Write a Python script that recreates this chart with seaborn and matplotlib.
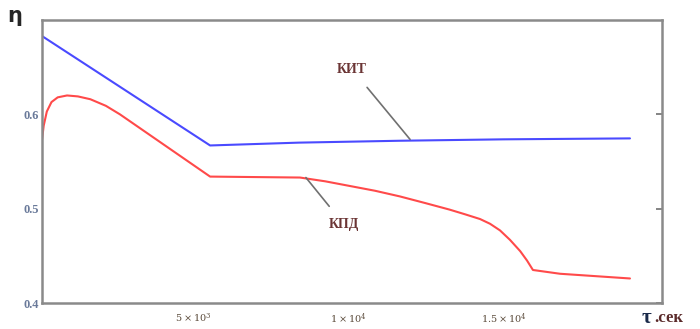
import numpy as np
import pandas as pd
import matplotlib.pyplot as plt
import seaborn as sns

# Values
kit_time = [145, 5550, 8400, 11650, 15000, 19050]
kit_eta = [0.683, 0.567, 0.570, 0.572, 0.5735, 0.5745]

kpd_time = [145, 200, 300, 450, 650, 950, 1300, 1700, 2200, 2650, 5550,
            8440, 9250, 10050, 10850, 11650, 12460, 13250, 13750, 14230, 14550,
            14870, 15190, 15520, 15740, 15930, 16800, 19050]
kpd_eta = [0.573, 0.588, 0.603, 0.613, 0.618, 0.620, 0.619, 0.616, 0.609, 0.600, 0.534,
           0.533, 0.529, 0.524, 0.519, 0.513, 0.506, 0.499, 0.494, 0.489, 0.484,
           0.477, 0.467, 0.455, 0.445, 0.435, 0.431, 0.426]

x_ticks = [5000, 10000, 15000]
x_tick_labels = [r"$5\times10^{3}$", r"$1\times10^{4}$", r"$1.5\times10^{4}$"]
y_ticks = [0.4, 0.5, 0.6]
y_tick_labels = ["0.4", "0.5", "0.6"]

kit = pd.DataFrame({"t": kit_time, "eta": kit_eta})
kpd = pd.DataFrame({"t": kpd_time, "eta": kpd_eta})

sns.set_style("white")
plt.rcParams["font.family"] = ["Liberation Serif", "DejaVu Serif"]
plt.rcParams["mathtext.fontset"] = "dejavuserif"

fig = plt.figure(figsize=(7, 3.29), dpi=100)
ax = fig.add_axes([42 / 700, 26 / 329, 620 / 700, 283 / 329])

sns.lineplot(data=kit, x="t", y="eta", color="#4a4aff", lw=1.5, ax=ax)
sns.lineplot(data=kpd, x="t", y="eta", color="#ff4a4a", lw=1.5, ax=ax)

ax.set_xlim(145, 20080)
ax.set_ylim(0.4, 0.7)
ax.set_xticks(x_ticks)
ax.set_xticklabels(x_tick_labels, fontsize=7, color="#5a4a3a")
ax.set_yticks(y_ticks)
ax.set_yticklabels(y_tick_labels, fontsize=9, color="#6a7a9a", fontweight="bold")
ax.set_xlabel("")
ax.set_ylabel("")
ax.tick_params(axis="both", direction="in", length=4, width=1.2, color="#707070", pad=2)
ax.tick_params(axis="x", pad=6)
ax.tick_params(axis="y", right=True, labelright=False)
for s in ax.spines.values():
    s.set_color("#8a8a8a")
    s.set_linewidth(1.8)

# curve labels with leader lines
ax.annotate("КИТ", xy=(11980, 0.5734), xytext=(10110, 0.648), fontsize=10,
            color="#6b3535", fontweight="bold", ha="center", va="center",
            arrowprops=dict(arrowstyle="-", color="#707070", lw=1.2, shrinkA=8, shrinkB=0))
ax.annotate("КПД", xy=(8630, 0.533), xytext=(9860, 0.483), fontsize=10,
            color="#6b3535", fontweight="bold", ha="center", va="center",
            arrowprops=dict(arrowstyle="-", color="#707070", lw=1.2, shrinkA=8, shrinkB=0))

fig.text(15 / 700, 1 - 16 / 329, "η", fontsize=15, fontweight="bold", ha="center", va="center",
         family=["DejaVu Sans"])
fig.text(642 / 700, 1 - 318 / 329, "τ", fontsize=15, fontweight="bold", color="#1a2a4a",
         ha="left", va="center")
fig.text(654 / 700, 1 - 318 / 329, ".сек", fontsize=12, fontweight="bold", color="#5a2a2a",
         ha="left", va="center")

fig.savefig("out.png", dpi=100)
